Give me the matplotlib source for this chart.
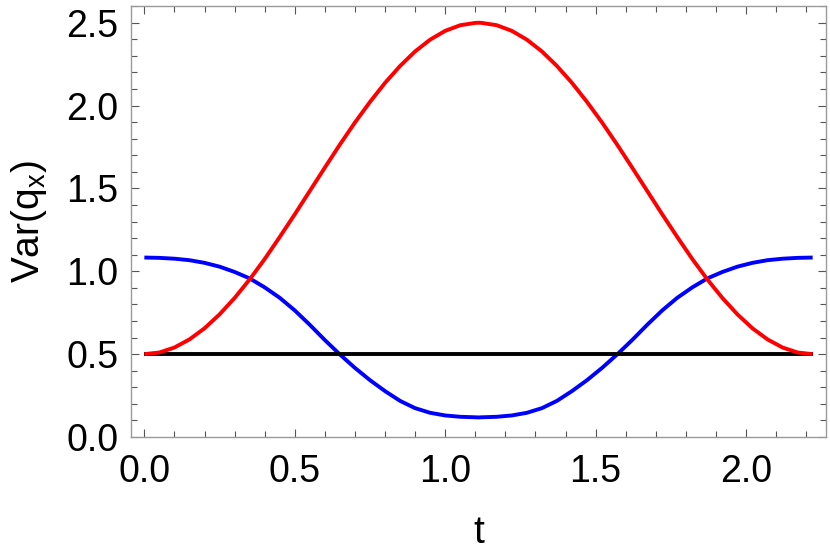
import matplotlib
matplotlib.use("Agg")
import matplotlib.pyplot as plt
from matplotlib.ticker import MultipleLocator

plt.rcParams['font.family'] = ['Liberation Sans', 'DejaVu Sans']
plt.rcParams['mathtext.fontset'] = 'custom'
plt.rcParams['mathtext.rm'] = 'Liberation Sans'
plt.rcParams['mathtext.it'] = 'Liberation Sans:italic'

# Data
t = [0.00, 0.05, 0.10, 0.15, 0.20, 0.25, 0.30, 0.35, 0.40, 0.45, 0.50,
     0.55, 0.60, 0.65, 0.70, 0.75, 0.80, 0.85, 0.90, 0.95, 1.00, 1.05,
     1.10, 1.1107, 1.1214, 1.1714, 1.2214, 1.2714, 1.3214, 1.3714, 1.4214,
     1.4714, 1.5214, 1.5714, 1.6214, 1.6714, 1.7214, 1.7714, 1.8214,
     1.8714, 1.9214, 1.9714, 2.0214, 2.0714, 2.1214, 2.1714, 2.2214]

var_red = [0.500, 0.510, 0.540, 0.589, 0.656, 0.740, 0.839, 0.951, 1.074,
           1.207, 1.344, 1.485, 1.626, 1.765, 1.898, 2.022, 2.137, 2.239,
           2.327, 2.398, 2.451, 2.485, 2.499, 2.500, 2.499, 2.485, 2.451,
           2.398, 2.327, 2.239, 2.137, 2.022, 1.898, 1.765, 1.626, 1.485,
           1.344, 1.207, 1.074, 0.951, 0.839, 0.740, 0.656, 0.589, 0.540,
           0.510, 0.500]

var_blue = [1.083, 1.081, 1.076, 1.067, 1.051, 1.028, 0.996, 0.957, 0.903,
            0.840, 0.764, 0.677, 0.585, 0.498, 0.417, 0.343, 0.277, 0.218,
            0.174, 0.146, 0.130, 0.122, 0.119, 0.118, 0.119, 0.122, 0.130,
            0.146, 0.174, 0.218, 0.277, 0.343, 0.417, 0.498, 0.585, 0.677,
            0.764, 0.840, 0.903, 0.957, 0.996, 1.028, 1.051, 1.067, 1.076,
            1.081, 1.083]

t_black = [0.0, 2.2214]
var_black = [0.5, 0.5]

x_major = [0.0, 0.5, 1.0, 1.5, 2.0]
x_labels = ["0.0", "0.5", "1.0", "1.5", "2.0"]
y_major = [0.0, 0.5, 1.0, 1.5, 2.0, 2.5]
y_labels = ["0.0", "0.5", "1.0", "1.5", "2.0", "2.5"]

W, H = 830, 556
fig = plt.figure(figsize=(W / 100, H / 100), dpi=100)
L, R, T, B = 131, 826, 6, 437
ax = fig.add_axes([L / W, 1 - B / H, (R - L) / W, (B - T) / H])

ax.plot(t, var_blue, color='#0000FF', lw=2.8, solid_capstyle='butt',
        solid_joinstyle='round', zorder=2)
ax.plot(t_black, var_black, color='black', lw=2.8, solid_capstyle='butt', zorder=3)
ax.plot(t, var_red, color='#FF0000', lw=2.8, solid_capstyle='butt',
        solid_joinstyle='round', zorder=4)

ax.set_xlim(-0.0444, 2.2658)
ax.set_ylim(0.0, 2.601)

ax.set_xticks(x_major)
ax.set_xticklabels(x_labels)
ax.set_yticks(y_major)
ax.set_yticklabels(y_labels)
ax.xaxis.set_minor_locator(MultipleLocator(0.1))
ax.yaxis.set_minor_locator(MultipleLocator(0.1))

ax.tick_params(which='both', direction='in', top=True, right=True,
               color='#555555', width=0.8)
ax.tick_params(which='major', length=6, labelsize=27, pad=9)
ax.tick_params(which='minor', length=4)
ax.tick_params(axis='x', which='major', pad=12)

for s in ax.spines.values():
    s.set_color('#9a9a9a')
    s.set_linewidth(1.0)

ax.set_xlabel('t', fontsize=28)
ax.set_ylabel(r'Var($\mathrm{q}_\mathrm{x}$)', fontsize=28)
ax.xaxis.set_label_coords(0.5, -0.182)
ax.yaxis.set_label_coords(-0.118, 0.5)

fig.savefig('out.png', dpi=100)
